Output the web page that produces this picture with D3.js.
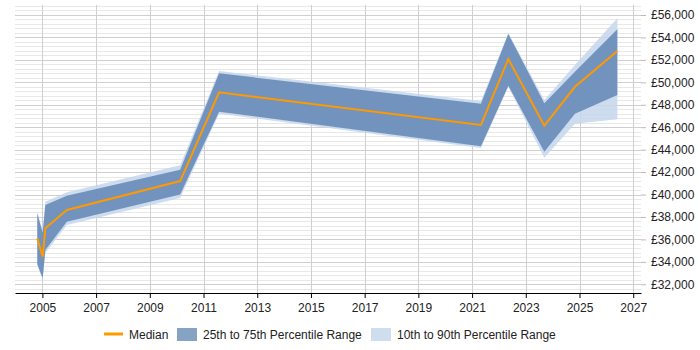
<!DOCTYPE html>
<html>
<head>
<meta charset="utf-8">
<script src="https://cdn.jsdelivr.net/npm/d3@7"></script>
<style>
	body { margin: 0; background: #fff; }
	svg text { font-family: "Liberation Sans", Arial, sans-serif; font-size: 12px; fill: #222; }
</style>
</head>
<body>
<div id="chart"></div>
<script>
// decimal years of each sample
const years = [2004.81, 2005.01, 2005.11, 2005.91, 2010.13, 2011.58, 2021.33, 2022.35, 2023.69, 2024.83, 2026.41];
const median = [36100, 34460, 36990, 38620, 41200, 49110, 46200, 52080, 46140, 49600, 52800];
const p25 = [33800, 32530, 35060, 37580, 40000, 47380, 44300, 49700, 43820, 47200, 48870];
const p75 = [38330, 36600, 39070, 39900, 42200, 50800, 48100, 54310, 48130, 50950, 54730];
const p10 = [33700, 32400, 34790, 37280, 39700, 47200, 44150, 49600, 43280, 46300, 46710];
const p90 = [38450, 36700, 39360, 40200, 42600, 51000, 48340, 54400, 48430, 51550, 55710];

const xTicks = [2005, 2007, 2009, 2011, 2013, 2015, 2017, 2019, 2021, 2023, 2025, 2027];
const yTicks = [32000, 34000, 36000, 38000, 40000, 42000, 44000, 46000, 48000, 50000, 52000, 54000, 56000];
const legendLabels = ["Median", "25th to 75th Percentile Range", "10th to 90th Percentile Range"];

const w = 700;
const h = 350;
const padL = 15, padR = 641, padT = 5, padB = 293;

const data = years.map((y, i) => ({
	year: y, median: median[i], p25: p25[i], p75: p75[i], p10: p10[i], p90: p90[i]
}));

const xScale = d3.scaleLinear().domain([2003.98, 2027.29]).range([padL, padR]);
const yScale = d3.scaleLinear().domain([31225, 56890]).range([padB, padT]);

const svg = d3.select("#chart").append("svg").attr("width", w).attr("height", h);

// minor horizontal grid
const minor = d3.range(Math.ceil(31225 / 400) * 400, 56890, 400).filter((v) => v % 2000 !== 0);
svg.append("g")
	.selectAll("line")
	.data(minor)
	.enter()
	.append("line")
	.attr("x1", padL).attr("x2", padR)
	.attr("y1", (d) => Math.round(yScale(d)) + 0.5)
	.attr("y2", (d) => Math.round(yScale(d)) + 0.5)
	.attr("stroke", "#e8e8e8");

// major horizontal grid
svg.append("g")
	.selectAll("line")
	.data(yTicks)
	.enter()
	.append("line")
	.attr("x1", padL).attr("x2", padR)
	.attr("y1", (d) => Math.round(yScale(d)) + 0.5)
	.attr("y2", (d) => Math.round(yScale(d)) + 0.5)
	.attr("stroke", "#cfcfcf");

// vertical grid
svg.append("g")
	.selectAll("line")
	.data(xTicks)
	.enter()
	.append("line")
	.attr("x1", (d) => Math.round(xScale(d)) + 0.5)
	.attr("x2", (d) => Math.round(xScale(d)) + 0.5)
	.attr("y1", padT).attr("y2", padB)
	.attr("stroke", "#cfcfcf");

const outer = d3.area()
	.x((d) => xScale(d.year))
	.y0((d) => yScale(d.p10))
	.y1((d) => yScale(d.p90));
const inner = d3.area()
	.x((d) => xScale(d.year))
	.y0((d) => yScale(d.p25))
	.y1((d) => yScale(d.p75));
const line = d3.line()
	.x((d) => xScale(d.year))
	.y((d) => yScale(d.median));

svg.append("path").datum(data).attr("d", outer).attr("fill", "#c4d6eb").attr("fill-opacity", 0.85);
svg.append("path").datum(data).attr("d", inner).attr("fill", "#6489b7").attr("fill-opacity", 0.88);
svg.append("path").datum(data).attr("d", line)
	.attr("fill", "none").attr("stroke", "#ff9900").attr("stroke-width", 2);

// axes
const xAxis = d3.axisBottom(xScale).tickValues(xTicks).tickFormat(d3.format("d")).tickSize(5).tickSizeOuter(0);
const gx = svg.append("g").attr("transform", "translate(0," + padB + ")").call(xAxis);
gx.select(".domain").attr("stroke", "#000");
gx.selectAll(".tick line").attr("stroke", "#000");
gx.selectAll("text").attr("dy", "0.9em");

const yAxis = d3.axisRight(yScale).tickValues(yTicks)
	.tickFormat((d) => "£" + d3.format(",")(d)).tickSize(5).tickPadding(5);
const gy = svg.append("g").attr("transform", "translate(" + padR + ",0)").call(yAxis);
gy.select(".domain").remove();
gy.selectAll(".tick line").attr("stroke", "#bbb");

svg.selectAll(".tick text").style("font-size", "12px").attr("fill", "#222");

// legend
const lg = svg.append("g").attr("transform", "translate(0,334)");
lg.append("line").attr("x1", 104).attr("x2", 123).attr("y1", 0).attr("y2", 0)
	.attr("stroke", "#ff9900").attr("stroke-width", 3);
lg.append("text").attr("x", 129).attr("y", 4.5).text(legendLabels[0]);
lg.append("rect").attr("x", 177).attr("y", -6).attr("width", 20).attr("height", 13).attr("fill", "#87a3c4");
lg.append("text").attr("x", 203).attr("y", 4.5).text(legendLabels[1]);
lg.append("rect").attr("x", 371).attr("y", -6).attr("width", 20).attr("height", 13).attr("fill", "#cfdeef");
lg.append("text").attr("x", 397).attr("y", 4.5).text(legendLabels[2]);
</script>
</body>
</html>
